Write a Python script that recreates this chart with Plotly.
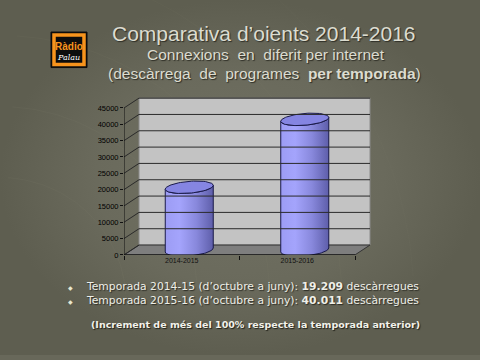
import numpy as np
import plotly.graph_objects as go

# ---------------- data ----------------
categories = ["2014-2015", "2015-2016"]
downloads = [19209, 40011]
y_ticks = [0, 5000, 10000, 15000, 20000, 25000, 30000, 35000, 40000, 45000]
y_max = 45000

title = "Comparativa d’oients 2014-2016"
subtitle_1 = "Connexions  en  diferit per internet"
subtitle_2 = "(descàrrega  de  programes  <b>per temporada</b>)"
bullet_lines = [
    "Temporada 2014-15 (d’octubre a juny): <b>19.209</b> descàrregues",
    "Temporada 2015-16 (d’octubre a juny): <b>40.011</b> descàrregues",
]
footnote = "<b>(Increment de més del 100% respecte la temporada anterior)</b>"

# ---------------- geometry (pixel based layout) ----------------
W, H = 480, 360
SHIFT = 4.5                                    # vertical placement correction
X0_PX, Y0_PX, YTOP_PX = 124, 254 + SHIFT, 105 + SHIFT
PX_PER_X = 115.5
PX_PER_Y = (Y0_PX - YTOP_PX) / y_max
DX = 15 / PX_PER_X
DY = 10 / PX_PER_Y
X_RANGE = [0, 2.15]
PLOT_TOP_PX = 93 + SHIFT
Y_RANGE = [0, (Y0_PX - PLOT_TOP_PX) / PX_PER_Y]
x_dom = [X0_PX / W, (X0_PX + X_RANGE[1] * PX_PER_X) / W]
y_dom = [1 - Y0_PX / H, 1 - PLOT_TOP_PX / H]
n = len(categories)

fig = go.Figure()

fig.add_trace(go.Scatter(
    x=[0, 1, 1, 0, 0], y=[0, 0, 1, 1, 0], xaxis="x", yaxis="y",
    mode="lines", line=dict(width=0), fill="toself",
    fillgradient=dict(type="radial",
                      colorscale=[[0, "#727264"], [0.6, "#6a6a5c"], [1, "#5e5e50"]]),
    hoverinfo="skip", showlegend=False))

for r, c in [(0.35, 0.10), (0.55, 0.10), (0.75, 0.08), (0.95, 0.07), (1.15, 0.06)]:
    t = np.linspace(np.pi * 0.02, np.pi * 0.48, 60)
    fig.add_trace(go.Scatter(
        x=0.0 + r * np.cos(t) * 0.75, y=0.15 + r * np.sin(t), xaxis="x", yaxis="y",
        mode="lines", line=dict(color=f"rgba(140,140,120,{c})", width=1),
        hoverinfo="skip", showlegend=False))

shapes = []
xr, yr = "x2", "y2"
shapes.append(dict(type="path", xref=xr, yref=yr, layer="below",
                   path=f"M {DX},{DY} L {n+DX},{DY} L {n+DX},{y_max+DY} L {DX},{y_max+DY} Z",
                   fillcolor="#c3c3c3", line=dict(color="#8a8a8a", width=1)))
shapes.append(dict(type="path", xref=xr, yref=yr, layer="below",
                   path=f"M 0,0 L {n},0 L {n+DX},{DY} L {DX},{DY} Z",
                   fillcolor="#7e7e7e", line=dict(color="#333333", width=1)))
for v in y_ticks:
    if v > 0:
        shapes.append(dict(type="line", xref=xr, yref=yr, x0=DX, x1=n + DX, y0=v + DY, y1=v + DY,
                           line=dict(color="#2a2a2a", width=1)))
    shapes.append(dict(type="line", xref=xr, yref=yr, x0=0, x1=DX, y0=v, y1=v + DY,
                       line=dict(color="#2a2a2a", width=1)))
shapes.append(dict(type="line", xref=xr, yref=yr, x0=0, x1=0, y0=0, y1=y_max,
                   line=dict(color="#111111", width=1)))
shapes.append(dict(type="line", xref=xr, yref=yr, x0=0, x1=n, y0=0, y1=0,
                   line=dict(color="#111111", width=1)))

half_w = 24 / PX_PER_X
ry = 6 / PX_PER_Y
tilt = (4 / PX_PER_Y) / (48 / PX_PER_X)
t = np.linspace(0, np.pi, 40)
tt = np.linspace(0, 2 * np.pi, 80)
for i, v in enumerate(downloads):
    cx = i + 0.5 + DX / 2
    base = DY / 2
    top = v + DY / 2
    xa = cx - half_w * np.cos(t)
    bot_y = base - ry * np.sin(t) + tilt * (xa - cx)
    top_lower_y = top - ry * np.sin(t) + tilt * (xa - cx)
    body_x = np.append(np.concatenate([xa, xa[::-1]]), xa[0])
    body_y = np.append(np.concatenate([bot_y, top_lower_y[::-1]]), bot_y[0])
    fig.add_trace(go.Scatter(
        x=body_x, y=body_y, xaxis="x2", yaxis="y2", mode="lines",
        line=dict(color="#1a1a4a", width=1), fill="toself",
        fillgradient=dict(type="horizontal",
                          colorscale=[[0, "#9c9cf4"], [0.3, "#a4a4fc"], [0.65, "#8888dc"], [1, "#5e5eaa"]]),
        hoverinfo="skip", showlegend=False))
    ex = cx - half_w * np.cos(tt)
    ey = top + ry * np.sin(tt) + tilt * (ex - cx)
    fig.add_trace(go.Scatter(
        x=ex, y=ey, xaxis="x2", yaxis="y2", mode="lines",
        line=dict(color="#1a1a4a", width=1), fill="toself", fillcolor="#8585e2",
        hoverinfo="skip", showlegend=False))

def px(x):
    return x / W

def py(y):
    return 1 - y / H

txt_col = "#dcdcd0"
shadow = "1px 1px 1px #2e2e26"
annotations = [
    dict(text=title, x=px(264), y=py(34), font=dict(size=21, color=txt_col, family="Liberation Sans", shadow=shadow)),
    dict(text=subtitle_1, x=px(266), y=py(55.5), font=dict(size=15.5, color=txt_col, family="Liberation Sans", shadow=shadow)),
    dict(text=subtitle_2, x=px(264), y=py(74.5), font=dict(size=15.5, color=txt_col, family="Liberation Sans", shadow=shadow)),
]
for k, line in enumerate(bullet_lines):
    yy = 286 + SHIFT + 14.5 * k
    annotations.append(dict(text=line, x=px(84), y=py(yy), xanchor="left",
                            font=dict(size=10.75, color="#efefe8", family="DejaVu Sans", shadow=shadow)))
    annotations.append(dict(text="◆", x=px(70), y=py(yy + 1),
                            font=dict(size=6, color="#e8e8d0", family="DejaVu Sans")))
annotations.append(dict(text=footnote, x=px(255), y=py(325 + SHIFT),
                        font=dict(size=9.5, color="#f2f2ea", family="DejaVu Sans", shadow="1px 1px 1px #202018")))
annotations.append(dict(text="<b>Ràdio</b>", x=px(69), y=py(47.5),
                        font=dict(size=10, color="#f7941d", family="Liberation Sans")))
annotations.append(dict(text="<i>Palau</i>", x=px(68), y=py(58),
                        font=dict(size=8, color="#ffffff", family="DejaVu Serif")))
for a in annotations:
    a.setdefault("xanchor", "center")
    a.update(xref="paper", yref="paper", yanchor="middle", showarrow=False)

shapes.append(dict(type="rect", xref="paper", yref="paper", layer="above",
                   x0=px(51), x1=px(87), y0=py(68.5), y1=py(32.5),
                   fillcolor="#0d0d0d", line=dict(color="#0d0d0d", width=1)))
shapes.append(dict(type="rect", xref="paper", yref="paper", layer="above",
                   x0=px(54), x1=px(84), y0=py(65.5), y1=py(35.5),
                   fillcolor="rgba(0,0,0,0)", line=dict(color="#f7941d", width=3.5)))

fig.update_layout(
    width=W, height=H,
    margin=dict(l=0, r=0, t=0, b=0),
    paper_bgcolor="#68685a", plot_bgcolor="rgba(0,0,0,0)",
    showlegend=False,
    xaxis=dict(domain=[0, 1], range=[0, 1], visible=False, fixedrange=True),
    yaxis=dict(domain=[0, 1], range=[0, 1], visible=False, fixedrange=True),
    xaxis2=dict(domain=x_dom, range=X_RANGE, anchor="y2",
                tickmode="array", tickvals=[i + 0.5 for i in range(n)], ticktext=categories,
                ticks="", showgrid=False, zeroline=False, showline=False,
                tickfont=dict(size=7, color="#111111", family="Liberation Sans"),
                minor=dict(tickmode="array", tickvals=list(range(n + 1)), ticks="outside",
                           ticklen=4, tickcolor="#111111", showgrid=False)),
    yaxis2=dict(domain=y_dom, range=Y_RANGE, anchor="x2",
                tickmode="array", tickvals=y_ticks, ticktext=[str(v) for v in y_ticks],
                ticks="outside", ticklen=3, tickcolor="#111111",
                showgrid=False, zeroline=False, showline=False,
                tickfont=dict(size=7.5, color="#000000", family="Liberation Sans")),
    shapes=shapes,
    annotations=annotations,
)

post = ("document.documentElement.style.margin='0';document.documentElement.style.overflow='hidden';"
        "document.body.style.margin='0';document.body.style.overflow='hidden';"
        "var d=document.getElementById('{plot_id}');d.style.display='block';")
fig.write_html("out.html", config=dict(displayModeBar=False, responsive=False), post_script=post)
